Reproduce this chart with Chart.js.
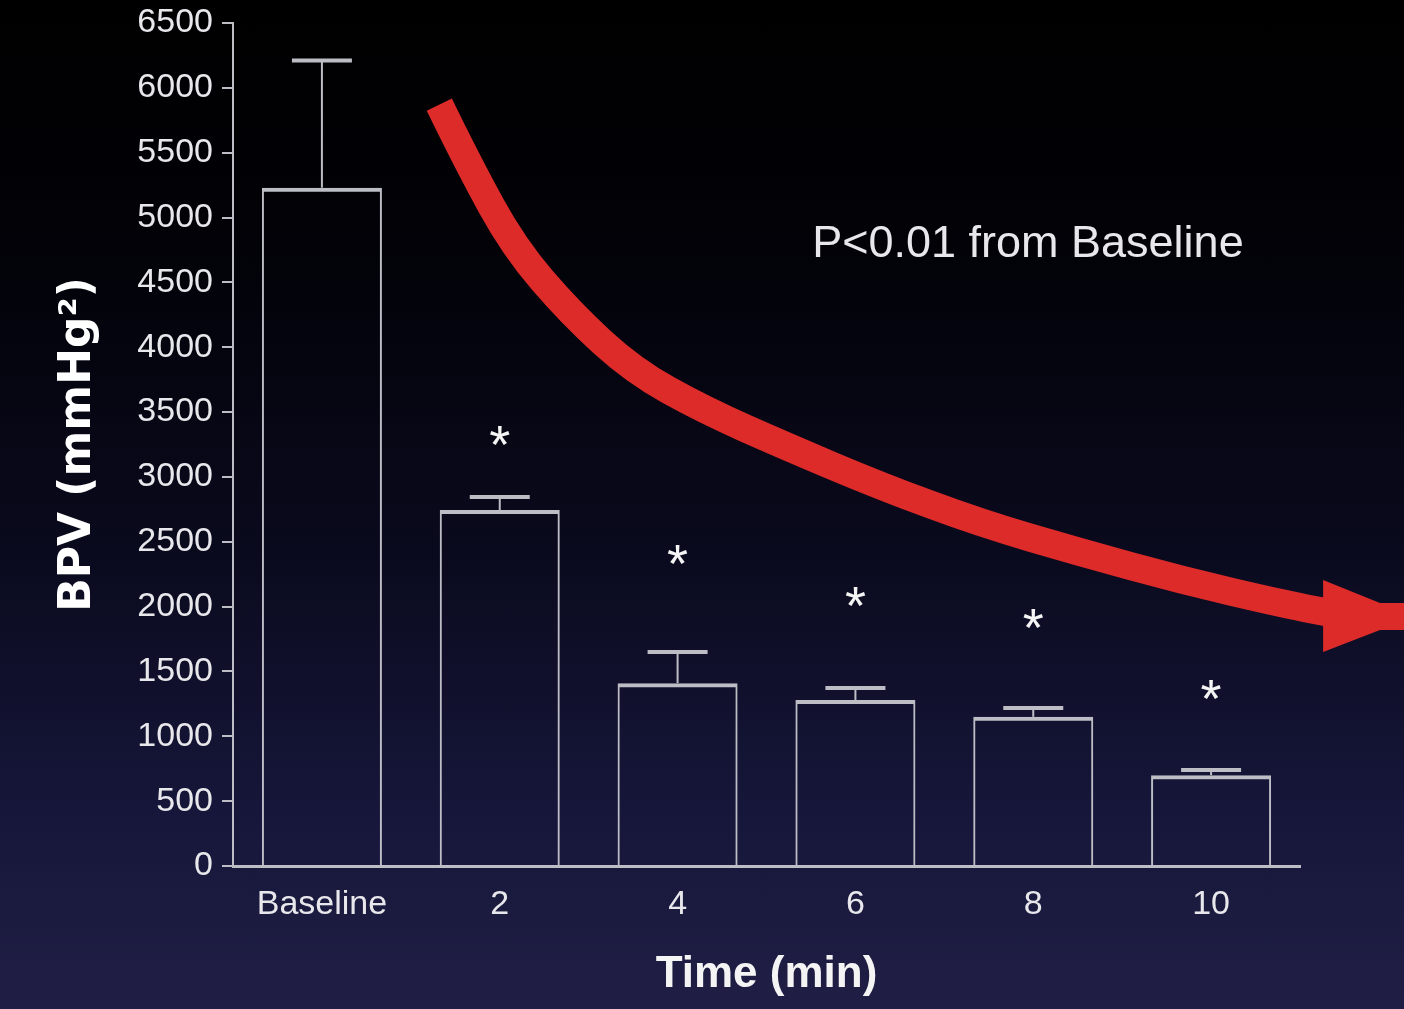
<!DOCTYPE html>
<html>
<head>
<meta charset="utf-8">
<script src="https://cdn.jsdelivr.net/npm/chart.js@4/dist/chart.umd.min.js"></script>
<style>
    html, body { margin: 0; padding: 0; }
    body {
        width: 1404px; height: 1009px; overflow: hidden;
        background: linear-gradient(to bottom, #000000 0%, #020208 25%, #0a0a1e 55%, #16163a 80%, #201e44 100%);
    }
    canvas { display: block; }
</style>
</head>
<body>
<canvas id="bpvChart" width="1404" height="1009"></canvas>
<script>
    // --- DATA ---
    const timeLabels = ['Baseline', '2', '4', '6', '8', '10'];
    const bpvMean = [5230, 2745, 1410, 1280, 1150, 700];
    const bpvErrTop = [6210, 2845, 1650, 1372, 1218, 740];
    const starValues = [null, 3320, 2400, 2080, 1910, 1360];   // where the * sits (y units)
    const yTicks = { min: 0, max: 6500, step: 500 };

    // red trend arrow, in (category index, BPV) units
    const arrowIdx = [0.66, 0.82, 1.08, 1.40, 1.75, 2.15, 2.62, 3.14, 3.70, 4.26, 4.83, 5.39, 5.67];
    const arrowVal = [5870, 5420, 4770, 4260, 3820, 3515, 3230, 2930, 2645, 2420, 2205, 2025, 1950];
    const arrowHeadIdx = [5.63, 5.95, 6.20, 6.20, 5.95, 5.63];
    const arrowHeadVal = [2205, 2027, 2027, 1819, 1819, 1650];

    const noteText = 'P<0.01 from Baseline';
    const notePos = { idx: 3.97, val: 4790 };

    const LINE = '#bdbdc6';
    const TEXT = '#e8e8ec';

    // --- ERROR BARS + STARS + NOTE ---
    const extrasPlugin = {
        id: 'extras',
        afterDatasetsDraw(chart) {
            const ctx = chart.ctx;
            const x = chart.scales.x, y = chart.scales.y;
            const meta = chart.getDatasetMeta(0);
            ctx.save();
            ctx.strokeStyle = LINE;
            meta.data.forEach((bar, i) => {
                const yTop = y.getPixelForValue(bpvErrTop[i]);
                const yBar = y.getPixelForValue(bpvMean[i]);
                ctx.lineWidth = 2;
                ctx.beginPath();
                ctx.moveTo(bar.x, yBar);
                ctx.lineTo(bar.x, yTop);
                ctx.stroke();
                ctx.lineWidth = 4;
                ctx.beginPath();
                ctx.moveTo(bar.x - 30, yTop);
                ctx.lineTo(bar.x + 30, yTop);
                ctx.stroke();
            });

            // significance stars
            ctx.fillStyle = '#f4f4f4';
            ctx.font = '54px "Liberation Sans", Arial, sans-serif';
            ctx.textAlign = 'center';
            ctx.textBaseline = 'alphabetic';
            const m = ctx.measureText('*');
            const shift = (m.actualBoundingBoxDescent - m.actualBoundingBoxAscent) / 2;
            starValues.forEach((v, i) => {
                if (v === null) return;
                ctx.fillText('*', x.getPixelForValue(i), y.getPixelForValue(v) - shift);
            });

            // p-value note
            ctx.fillStyle = TEXT;
            ctx.font = '45px "Liberation Sans", Arial, sans-serif';
            ctx.textBaseline = 'middle';
            ctx.fillText(noteText, x.getPixelForValue(notePos.idx), y.getPixelForValue(notePos.val));
            ctx.restore();
        },
        afterDraw(chart) {
            const ctx = chart.ctx;
            const x = chart.scales.x, y = chart.scales.y;
            const pts = arrowIdx.map((v, i) => [x.getPixelForValue(v), y.getPixelForValue(arrowVal[i])]);
            ctx.save();
            ctx.strokeStyle = '#dc2b29';
            ctx.fillStyle = '#dc2b29';
            ctx.lineWidth = 28;
            ctx.lineCap = 'butt';
            ctx.lineJoin = 'round';
            ctx.beginPath();
            ctx.moveTo(pts[0][0], pts[0][1]);
            for (let i = 1; i < pts.length - 1; i++) {
                const mx = (pts[i][0] + pts[i + 1][0]) / 2;
                const my = (pts[i][1] + pts[i + 1][1]) / 2;
                ctx.quadraticCurveTo(pts[i][0], pts[i][1], mx, my);
            }
            const last = pts[pts.length - 1];
            ctx.lineTo(last[0], last[1]);
            ctx.stroke();

            ctx.beginPath();
            arrowHeadIdx.forEach((v, i) => {
                const px = x.getPixelForValue(v), py = y.getPixelForValue(arrowHeadVal[i]);
                if (i === 0) ctx.moveTo(px, py); else ctx.lineTo(px, py);
            });
            ctx.closePath();
            ctx.fill();
            ctx.restore();
        }
    };

    // --- CHART ---
    const ctx = document.getElementById('bpvChart').getContext('2d');
    const bpvChart = new Chart(ctx, {
        type: 'bar',
        data: {
            labels: timeLabels,
            datasets: [{
                data: bpvMean,
                backgroundColor: 'rgba(0,0,0,0)',
                borderColor: LINE,
                borderWidth: { top: 4, left: 2, right: 2, bottom: 0 },
                borderSkipped: 'bottom',
                barPercentage: 0.675,
                categoryPercentage: 1.0
            }]
        },
        options: {
            responsive: false,
            animation: false,
            layout: { padding: { top: 23, right: 104, left: 0, bottom: 0 } },
            plugins: { legend: { display: false }, tooltip: { enabled: false } },
            scales: {
                x: {
                    offset: true,
                    grid: { display: false, drawTicks: false },
                    border: { display: true, color: LINE, width: 3 },
                    ticks: {
                        color: TEXT,
                        padding: 18,
                        font: { family: '"Liberation Sans", Arial, sans-serif', size: 34 }
                    },
                    title: {
                        display: true,
                        text: 'Time (min)',
                        color: '#f4f4f4',
                        padding: { top: 0, bottom: 8 },
                        font: { family: '"Liberation Sans", Arial, sans-serif', size: 44, weight: 'bold' }
                    },
                    afterFit(scale) { scale.height = 143; }
                },
                y: {
                    min: yTicks.min,
                    max: yTicks.max,
                    grid: { drawOnChartArea: false, tickLength: 11, color: LINE, lineWidth: 2 },
                    border: { display: true, color: LINE, width: 2 },
                    ticks: {
                        stepSize: yTicks.step,
                        color: TEXT,
                        padding: 9,
                        callback: (v) => String(v),
                        font: { family: '"Liberation Sans", Arial, sans-serif', size: 34 }
                    },
                    title: {
                        display: true,
                        text: 'BPV (mmHg²)',
                        color: '#ffffff',
                        padding: { top: 52, bottom: 0 },
                        font: { family: '"DejaVu Sans", Verdana, sans-serif', size: 44, weight: 'bold' }
                    },
                    afterFit(scale) {
                        scale.width = 233;
                        scale.paddingTop = 0;
                        scale.paddingBottom = 0;
                    }
                }
            }
        },
        plugins: [extrasPlugin]
    });
</script>
</body>
</html>
